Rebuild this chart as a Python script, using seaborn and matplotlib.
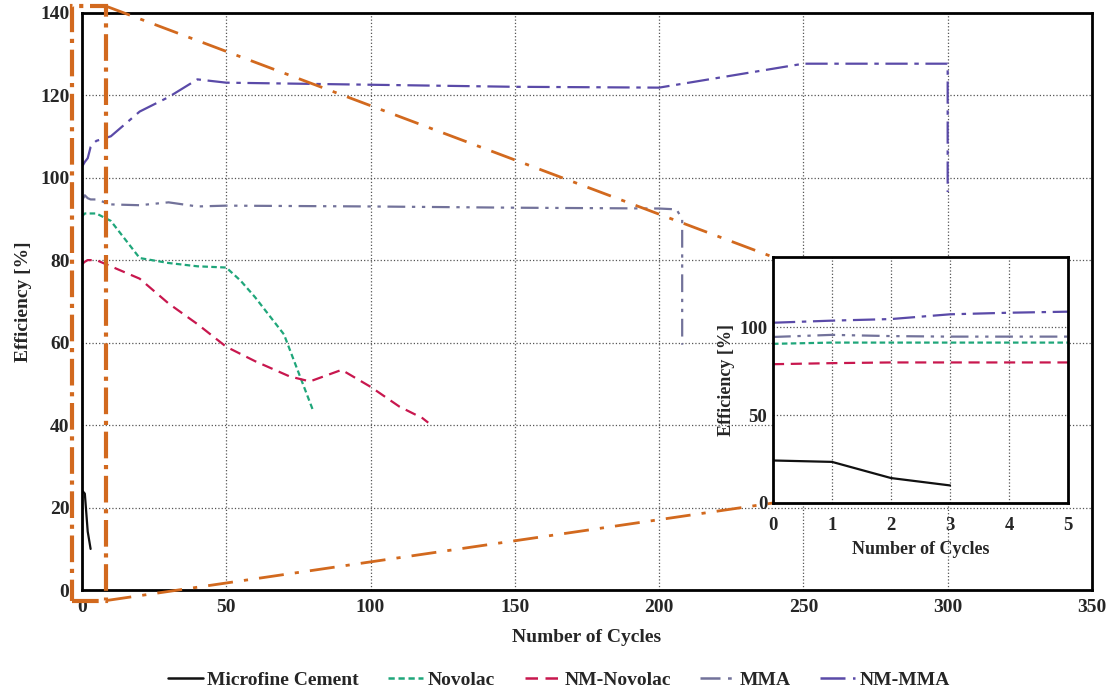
import numpy as np
import pandas as pd
import matplotlib
matplotlib.use("Agg")
import matplotlib.pyplot as plt
import seaborn as sns
from matplotlib.patches import Rectangle
from matplotlib.lines import Line2D

# === DATA ===
cement_x = [0, 1, 2, 3]
cement_y = [24.2, 23.4, 14.2, 10.0]

novolac_x = [0, 1, 2, 3, 4, 5, 10, 15, 20, 30, 40, 50, 55, 60, 70, 80]
novolac_y = [90.6, 91.3, 91.3, 91.3, 91.3, 91.3, 89.5, 85.0, 80.5, 79.3, 78.5, 78.2, 75.0, 71.0, 62.0, 43.7]

nm_novolac_x = [0, 1, 2, 3, 4, 5, 10, 20, 30, 40, 50, 60, 72, 79, 90, 100, 110, 118, 120]
nm_novolac_y = [79.0, 79.6, 80.0, 80.0, 80.0, 80.0, 78.5, 75.5, 69.5, 64.5, 59.0, 55.5, 51.8, 50.6, 53.4, 49.3, 44.5, 41.7, 40.6]

mma_x = [0, 1, 2, 3, 4, 5, 10, 20, 30, 40, 50, 100, 150, 200, 206, 208, 208]
mma_y = [94.5, 95.7, 95.0, 94.7, 94.7, 94.7, 93.5, 93.3, 94.0, 93.0, 93.2, 93.0, 92.7, 92.5, 92.3, 90.0, 59.5]

nm_mma_x = [0, 1, 2, 3, 4, 5, 10, 20, 30, 40, 50, 100, 150, 200, 250, 300, 300]
nm_mma_y = [102.6, 103.8, 104.7, 107.4, 108.3, 108.9, 110.0, 116.0, 119.5, 123.8, 123.0, 122.5, 122.0, 121.8, 127.6, 127.6, 96.5]

labels = ["Microfine Cement", "Novolac", "NM-Novolac", "MMA", "NM-MMA"]
colors = ["#111111", "#1fa67a", "#c8174e", "#72729a", "#5a4aa8"]
dashes = ["-", (0, (2.5, 1.5)), (0, (5, 3)), (0, (8, 3, 1.5, 3, 1.5, 3)), (0, (10, 3, 2, 3))]
series = [(cement_x, cement_y), (novolac_x, novolac_y), (nm_novolac_x, nm_novolac_y),
          (mma_x, mma_y), (nm_mma_x, nm_mma_y)]

# zoom window drawn on the main axes (data units)
zoom_x0, zoom_x1 = -3.5, 8.5
zoom_y0, zoom_y1 = -2.5, 141.5

# === STYLE ===
sns.set_style("white")
plt.rcParams["font.family"] = ["Liberation Serif", "DejaVu Serif"]
plt.rcParams["font.weight"] = "bold"
orange = "#d2691e"

fig = plt.figure(figsize=(11.18, 6.96), dpi=100)
ax = fig.add_axes([0.0733, 0.152, 0.9034, 0.830])
axins = fig.add_axes([0.6914, 0.2773, 0.2639, 0.3534])


def draw(a, lw):
    for (xs, ys), lab, c, ls in zip(series, labels, colors, dashes):
        df = pd.DataFrame({"x": xs, "y": ys})
        sns.lineplot(data=df, x="x", y="y", ax=a, color=c, linestyle=ls, lw=lw,
                     estimator=None, sort=False, legend=False)
    a.grid(True, linestyle=":", color="#555555", linewidth=0.9)
    for s in a.spines.values():
        s.set_linewidth(2)
        s.set_color("black")
    a.tick_params(length=0)


# === MAIN ===
draw(ax, 1.6)
ax.set_xlim(0, 350)
ax.set_ylim(0, 140)
ax.set_xticks(range(0, 351, 50))
ax.set_yticks(range(0, 141, 20))
ax.tick_params(axis="y", labelsize=14, pad=9)
ax.tick_params(axis="x", labelsize=14, pad=6)
ax.set_xlabel("Number of Cycles", fontsize=14, fontweight="bold", labelpad=10)
ax.set_ylabel("Efficiency [%]", fontsize=14, fontweight="bold", labelpad=6)

# === INSET ===
draw(axins, 1.6)
axins.set_xlim(0, 5)
axins.set_ylim(0, 140)
axins.set_xticks(range(0, 6))
axins.set_yticks([0, 50, 100])
axins.tick_params(axis="y", labelsize=13.5, pad=4)
axins.tick_params(axis="x", labelsize=13.5, pad=10)
axins.set_xlabel("Number of Cycles", fontsize=13, fontweight="bold", labelpad=5)
axins.set_ylabel("Efficiency [%]", fontsize=13, fontweight="bold", labelpad=3)
axins.set_zorder(5)

# zoom box
rect = Rectangle((zoom_x0, zoom_y0), zoom_x1 - zoom_x0, zoom_y1 - zoom_y0, fill=False,
                 linestyle="-.", lw=3, edgecolor=orange, clip_on=False, zorder=4)
ax.add_patch(rect)

# connectors: inset corners mapped into main-axes data coordinates
to_main = axins.transAxes + ax.transData.inverted()
ins_tl = to_main.transform((0, 1))
ins_bl = to_main.transform((0, 0))
for (xa, ya), (xb, yb) in [((zoom_x1, zoom_y1), ins_tl), ((zoom_x1, zoom_y0), ins_bl)]:
    ax.plot([xa, xb], [ya, yb], color=orange, linestyle=(0, (9, 4, 1.5, 4)), lw=2,
            clip_on=False, zorder=4)

# === LEGEND ===
handles = [Line2D([], [], color=c, linestyle=ls, lw=1.8) for c, ls in zip(colors, dashes)]
fig.legend(handles, labels, loc="lower center", bbox_to_anchor=(0.5, -0.015), ncol=5,
           frameon=False, prop={"size": 14, "weight": "bold"}, handlelength=1.8,
           columnspacing=1.5, handletextpad=0.25)

fig.savefig("out.png", dpi=100)
